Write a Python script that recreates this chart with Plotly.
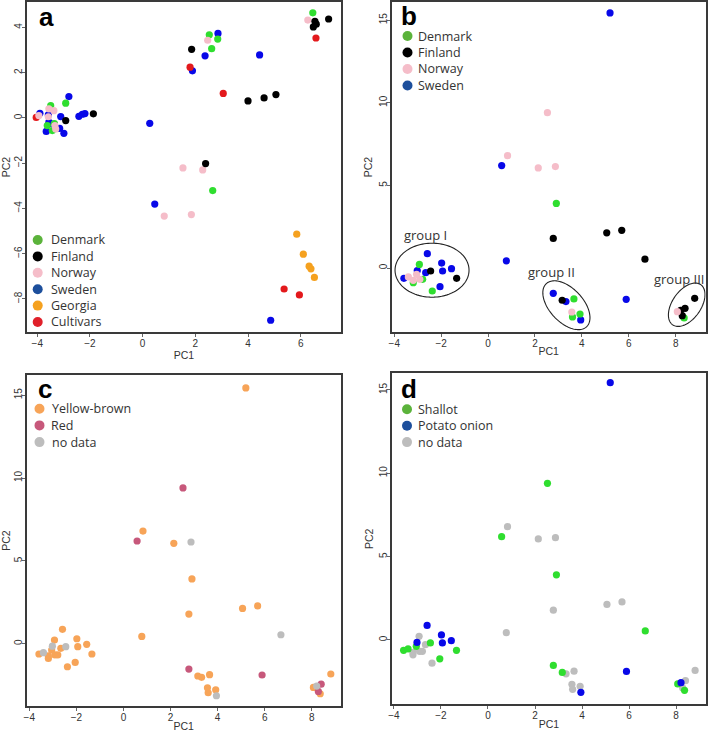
import numpy as np
import plotly.graph_objects as go

W, H = 708, 732

# ---------------- Panel a data (PC1, PC2 by origin) ----------------
denmark_a_pc1 = [6.46, 2.53, 2.85, 2.62, -2.92, -3.49, -3.62, -3.43, -3.35, 2.66]
denmark_a_pc2 = [4.64, 3.67, 3.48, 3.06, 0.65, 0.54, -0.34, -0.56, -0.25, -3.21]
finland_a_pc1 = [7.06, 6.54, 6.59, 6.48, 1.86, 4.00, 4.61, 5.06, -1.87, -2.92, 2.39]
finland_a_pc2 = [4.37, 4.27, 4.14, 4.02, 3.03, 0.75, 0.88, 1.03, 0.18, -0.12, -2.02]
norway_a_pc1 = [6.27, 2.47, -3.94, -3.56, -3.37, -3.58, -3.33, -3.30, 1.53, 2.28, 0.82, 1.85]
norway_a_pc2 = [4.32, 3.43, 0.10, 0.40, 0.32, 0.05, -0.34, -0.49, -2.21, -2.30, -4.34, -4.27]
sweden_a_pc1 = [2.86, 2.37, 4.44, 1.89, -2.80, -3.11, -2.42, -2.29, -2.19, -3.58, -3.90,
                -3.56, -3.43, -3.15, -3.66, -2.99, 0.27, 0.46, 4.86]
sweden_a_pc2 = [3.73, 2.74, 2.78, 2.08, 0.94, 0.06, 0.07, 0.16, 0.19, 0.13, 0.20,
                -0.19, -0.27, -0.46, -0.60, -0.68, -0.24, -3.81, -8.94]
georgia_a_pc1 = [5.85, 6.10, 6.32, 6.39, 6.52]
georgia_a_pc2 = [-5.14, -6.02, -6.55, -6.67, -7.05]
cultivars_a_pc1 = [1.80, 3.06, 6.58, -4.04, 5.37, 5.95]
cultivars_a_pc2 = [2.24, 1.08, 3.53, 0.02, -7.56, -7.82]

# ---------------- Panels b, c, d data (same samples) ----------------
sample_pc1 = [5.20, 2.53, 0.58, 0.83, 2.14, 2.87, 2.91, 2.78, 5.06, 5.70, 6.69, 0.78,
              2.78, 3.16, 3.32, 3.66, 3.57, 3.60, 3.92, 3.95, 5.89, 8.81, 8.07, 8.21,
              8.40, 8.28, 8.36,
              -2.59, -1.98, -1.56, -1.94, -1.34, -2.05, -2.38, -2.93, -2.45, -2.66,
              -3.59, -3.40, -3.05, -3.19, -2.91, -3.19, -2.79, -3.02]
sample_pc2 = [15.44, 9.40, 6.20, 6.80, 6.06, 6.14, 3.91, 1.79, 2.13, 2.28, 0.54, 0.44,
              -1.53, -1.95, -2.03, -1.87, -2.66, -2.96, -2.78, -3.14, -1.89, -1.83, -2.64, -2.56,
              -2.44, -2.88, -3.02,
              0.87, 0.30, -0.04, -0.18, -0.62, -1.13, -1.39, 0.22, -0.18, -0.28,
              -0.62, -0.54, -0.38, -0.74, -0.68, -0.89, -0.68, -0.15]
sample_country = ["Sweden", "Norway", "Sweden", "Norway", "Norway", "Norway", "Denmark", "Finland",
                  "Finland", "Finland", "Finland", "Sweden",
                  "Sweden", "Finland", "Sweden", "Denmark", "Norway", "Denmark", "Denmark", "Sweden",
                  "Sweden", "Finland", "Norway", "Finland", "Finland", "Finland", "Denmark",
                  "Sweden", "Sweden", "Sweden", "Sweden", "Finland", "Sweden", "Denmark", "Denmark",
                  "Finland", "Sweden", "Sweden", "Norway", "Norway", "Norway", "Norway", "Denmark",
                  "Denmark", "Sweden"]
sample_colour = ["Yellow-brown", "Red", "Red", "Yellow-brown", "Yellow-brown", "no data",
                 "Yellow-brown", "Yellow-brown", "Yellow-brown", "Yellow-brown", "no data", "Yellow-brown",
                 "Red", "Yellow-brown", "Yellow-brown", "Yellow-brown", "Yellow-brown", "Yellow-brown",
                 "Yellow-brown", "no data", "Red", "Yellow-brown", "Yellow-brown", "no data",
                 "Red", "Red", "Yellow-brown",
                 "Yellow-brown", "Yellow-brown", "Yellow-brown", "Yellow-brown", "Yellow-brown",
                 "Yellow-brown", "Yellow-brown", "Yellow-brown", "no data", "Yellow-brown",
                 "Yellow-brown", "no data", "Yellow-brown", "Yellow-brown", "Yellow-brown",
                 "Yellow-brown", "Yellow-brown", "no data"]
sample_type = ["Potato onion", "Shallot", "Shallot", "no data", "no data", "no data", "Shallot",
               "no data", "no data", "no data", "Shallot", "no data",
               "Shallot", "Shallot", "no data", "no data", "no data", "no data", "no data",
               "Potato onion", "Potato onion", "no data", "Shallot", "Potato onion",
               "no data", "no data", "Shallot",
               "Potato onion", "Potato onion", "Potato onion", "Potato onion", "Shallot", "Shallot",
               "no data", "no data", "Shallot", "no data", "Shallot", "Shallot", "Shallot",
               "no data", "no data", "no data", "no data", "Potato onion"]

# ---------------- Category styling ----------------
a_order = ["Sweden", "Cultivars", "Georgia", "Denmark", "Norway", "Finland"]
a_legend = ["Denmark", "Finland", "Norway", "Sweden", "Georgia", "Cultivars"]
b_order = ["Sweden", "Denmark", "Finland", "Norway"]
b_legend = ["Denmark", "Finland", "Norway", "Sweden"]
c_order = ["Yellow-brown", "Red", "no data"]
d_order = ["no data", "Shallot", "Potato onion"]
d_legend = ["Shallot", "Potato onion", "no data"]

point_col = {"Denmark": "#2fde2f", "Finland": "#000000", "Norway": "#f5bdc9",
             "Sweden": "#0808e8", "Georgia": "#f5a11f", "Cultivars": "#e3191c",
             "Yellow-brown": "#f7a458", "Red": "#c7587b", "no data": "#bdbdbd",
             "Shallot": "#2fde2f", "Potato onion": "#0808e8"}
legend_col = {"Denmark": "#5bb33b", "Finland": "#000000", "Norway": "#f5bdc9",
              "Sweden": "#1d4f9c", "Georgia": "#f5a11f", "Cultivars": "#e0202a",
              "Yellow-brown": "#f7a458", "Red": "#c7587b", "no data": "#bdbdbd",
              "Shallot": "#5bb33b", "Potato onion": "#1d4f9c"}

a_data = {"Denmark": (denmark_a_pc1, denmark_a_pc2), "Finland": (finland_a_pc1, finland_a_pc2),
          "Norway": (norway_a_pc1, norway_a_pc2), "Sweden": (sweden_a_pc1, sweden_a_pc2),
          "Georgia": (georgia_a_pc1, georgia_a_pc2), "Cultivars": (cultivars_a_pc1, cultivars_a_pc2)}

fig = go.Figure()
MS = 7.2

for g in a_order:
    xs, ys = a_data[g]
    fig.add_trace(go.Scatter(x=xs, y=ys, mode="markers", xaxis="x", yaxis="y", name=g,
                             marker=dict(size=MS, color=point_col[g], line=dict(width=0)),
                             showlegend=False))


def add_bcd(order, labels, xa, ya):
    for g in order:
        xs = [p for p, l in zip(sample_pc1, labels) if l == g]
        ys = [p for p, l in zip(sample_pc2, labels) if l == g]
        fig.add_trace(go.Scatter(x=xs, y=ys, mode="markers", xaxis=xa, yaxis=ya, name=g,
                                 marker=dict(size=MS, color=point_col[g], line=dict(width=0)),
                                 showlegend=False))


add_bcd(b_order, sample_country, "x2", "y2")
add_bcd(c_order, sample_colour, "x3", "y3")
add_bcd(d_order, sample_type, "x4", "y4")

# ---------------- Axes ----------------
TICKFONT = dict(family="Liberation Sans, Arial", size=10, color="#333333")
TITLEFONT = dict(family="Liberation Sans, Arial", size=10.5, color="#333333")


def xax(dom, rng, dt, anchor):
    return dict(domain=dom, range=rng, dtick=dt, tick0=0, anchor=anchor, showgrid=False,
                zeroline=False, showline=True, linecolor="#3a3a3a", linewidth=2, mirror=True,
                ticks="outside", ticklen=3, tickcolor="#666666", tickfont=TICKFONT,
                ticklabelstandoff=-2,
                title=dict(text="PC1", font=TITLEFONT, standoff=0), automargin=False)


def yax(dom, rng, dt, anchor):
    return dict(domain=dom, range=rng, dtick=dt, tick0=0, anchor=anchor, showgrid=False,
                zeroline=False, showline=True, linecolor="#3a3a3a", linewidth=2, mirror=True,
                ticks="outside", ticklen=3, tickcolor="#666666", tickfont=TICKFONT,
                tickangle=-90, ticklabelstandoff=-4,
                title=dict(text="PC2", font=TITLEFONT, standoff=3), automargin=False)


def px_dom_x(l, r):
    return [l / W, r / W]


def px_dom_y(t, b):
    return [1 - b / H, 1 - t / H]


fig.update_layout(
    xaxis=xax(px_dom_x(27, 341), [-4.39, 7.53], 2, "y"),
    yaxis=yax(px_dom_y(2, 332), [-9.46, 5.12], 2, "x"),
    xaxis2=xax(px_dom_x(391.7, 705.7), [-4.11, 9.28], 2, "y2"),
    yaxis2=yax(px_dom_y(2, 332), [-3.87, 16.1], 5, "x2"),
    xaxis3=xax(px_dom_x(26.7, 340.7), [-4.11, 9.23], 2, "y3"),
    yaxis3=yax(px_dom_y(375.3, 706), [-3.76, 16.2], 5, "x3"),
    xaxis4=xax(px_dom_x(392.3, 705.7), [-4.07, 9.26], 2, "y4"),
    yaxis4=yax(px_dom_y(373.3, 704.3), [-3.86, 16.0], 5, "x4"),
)

shapes = []
annotations = []

# ---------------- Group ellipses in panel b ----------------
kx = (9.28 + 4.11) / (705.7 - 391.7)
ky = (16.1 + 3.87) / (332 - 2)
ellipses = [  # centre (data), semi-axes (px), angle (deg)
    (-2.39, -0.13, 37, 27, 0),
    (3.34, -2.25, 29.5, 16.8, -47),
    (8.47, -2.22, 24.5, 14.3, 55),
]
t = np.linspace(0, 2 * np.pi, 121)
for cx, cy, ea, eb, ang in ellipses:
    th = np.deg2rad(ang)
    ex = cx + (ea * np.cos(t) * np.cos(th) - eb * np.sin(t) * np.sin(th)) * kx
    ey = cy + (ea * np.cos(t) * np.sin(th) + eb * np.sin(t) * np.cos(th)) * ky
    path = "M " + " L ".join(f"{a:.4f},{b:.4f}" for a, b in zip(ex, ey)) + " Z"
    shapes.append(dict(type="path", path=path, xref="x2", yref="y2",
                       line=dict(color="#222222", width=1.1)))

group_labels = ["group I", "group II", "group III"]
group_x = [-2.66, 2.70, 8.14]
group_y = [1.99, -0.21, -0.66]
for txt, gx, gy in zip(group_labels, group_x, group_y):
    annotations.append(dict(text=txt, x=gx, y=gy, xref="x2", yref="y2", showarrow=False,
                            font=dict(family="Open Sans", size=13, color="#333333")))

# ---------------- Legends ----------------
LEGFONT = dict(family="Open Sans", size=12.5, color="#333333")


def add_legend(labels, mx, tx, y0, dy):
    for i, lab in enumerate(labels):
        yy = 1 - (y0 + i * dy) / H
        shapes.append(dict(type="circle", xref="paper", yref="paper",
                           xsizemode="pixel", ysizemode="pixel",
                           xanchor=mx / W, yanchor=yy, x0=-5, x1=5, y0=-5, y1=5,
                           fillcolor=legend_col[lab], line=dict(width=0)))
        annotations.append(dict(text=lab, x=tx / W, y=yy, xref="paper", yref="paper",
                                xanchor="left", yanchor="middle", showarrow=False,
                                font=LEGFONT))


add_legend(a_legend, 37.7, 48.5, 240, 16.4)
add_legend(b_legend, 407.5, 415.5, 36, 16.5)
add_legend(c_order, 39.5, 49.5, 408.7, 16.7)
add_legend(d_legend, 407, 415.5, 409.3, 16.4)

# ---------------- Panel letters ----------------
letters = ["a", "b", "c", "d"]
letter_x = [46, 409, 45, 409]
letter_y = [17, 16, 389, 389]
for lt, lx, ly in zip(letters, letter_x, letter_y):
    annotations.append(dict(text=f"<b>{lt}</b>", x=lx / W, y=1 - ly / H, xref="paper",
                            yref="paper", showarrow=False, xanchor="center", yanchor="middle",
                            font=dict(family="Liberation Sans, Arial", size=26, color="#000000")))

fig.update_layout(width=W, height=H, margin=dict(l=0, r=0, t=0, b=0),
                  plot_bgcolor="white", paper_bgcolor="white", showlegend=False,
                  shapes=shapes, annotations=annotations)

fig.write_html("out.html", config={"displayModeBar": False},
               post_script="document.body.style.margin='0px';document.body.style.overflow='hidden';")
